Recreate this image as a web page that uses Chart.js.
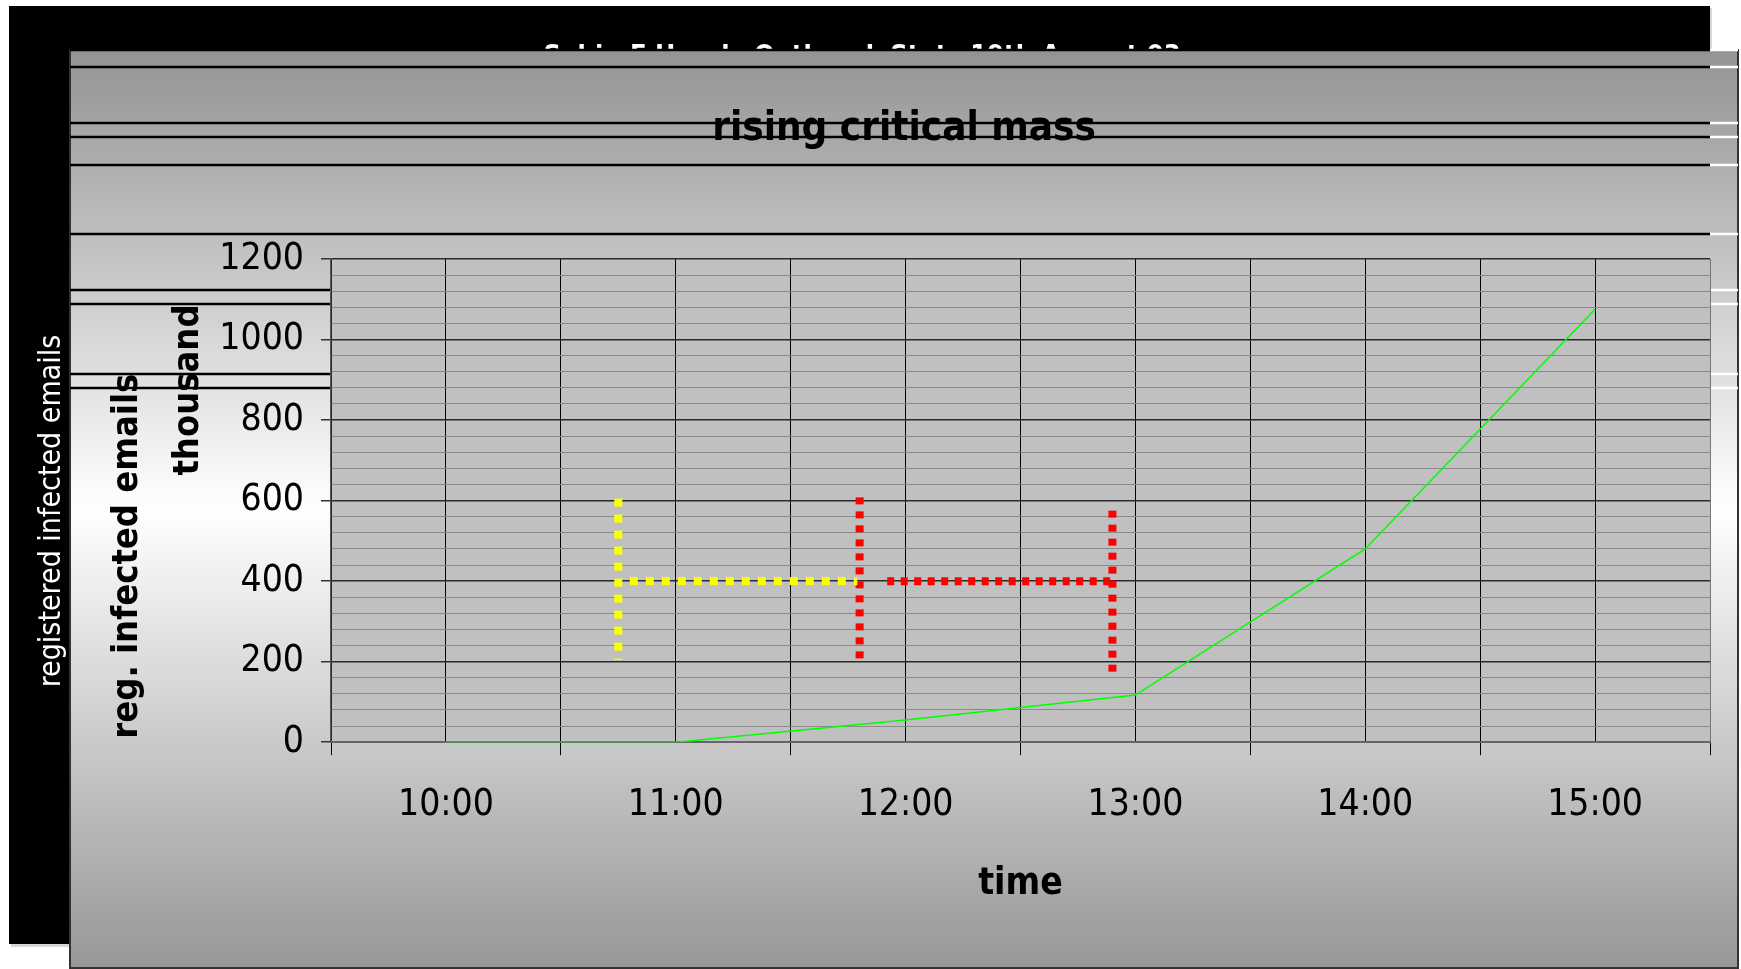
<!DOCTYPE html>
<html>
<head>
<meta charset="utf-8">
<title>rising critical mass</title>
<script src="https://cdn.jsdelivr.net/npm/chart.js@4/dist/chart.umd.min.js"></script>
<style>
  html, body { margin: 0; padding: 0; background: #fff; overflow: hidden; }
  #wrap { width: 1741px; height: 969px; }
</style>
</head>
<body>
<div id="wrap"><canvas id="myChart"></canvas></div>
<script>
const FONT = '"Liberation Sans Narrow", "Arial Narrow", "DejaVu Sans Condensed", "Liberation Sans", Arial, sans-serif';

const chartTitle = "rising critical mass";
const topTitle = "Sobig.F Hourly Outbreak Stats 19th August 03";
const sideLabel = "registered infected emails";
const yTitle = "reg. infected emails";
const yUnit = "thousand";
const xTitle = "time";

// hours on the x axis and their labels
const hours = [10, 11, 12, 13, 14, 15];
const timeLabels = ["10:00", "11:00", "12:00", "13:00", "14:00", "15:00"];
const yTicks = [0, 200, 400, 600, 800, 1000, 1200];

// registered infected emails, thousand
const infected = [0, 0, 55, 117, 480, 1075];

// dotted markers (x in hours, y in thousand)
const yellowDropX = [10.75, 10.75];
const yellowDropY = [605, 205];
const yellowSpanX = [10.8, 11.79];
const yellowSpanY = [400, 400];
const redDropX = [11.8, 11.8];
const redDropY = [608, 208];
const redSpanX = [11.92, 12.9];
const redSpanY = [400, 400];
const redEndX = [12.9, 12.9];
const redEndY = [575, 168];

const pts = (xs, ys) => xs.map((x, i) => ({ x: x, y: ys[i] }));
const isWhole = v => Math.abs(v - Math.round(v)) < 1e-6;

function dotted(color, xs, ys, dash) {
    return {
        data: pts(xs, ys),
        borderColor: color,
        borderWidth: 8,
        borderDash: dash,
        borderCapStyle: "butt",
        pointRadius: 0,
        fill: false,
        yAxisID: "y"
    };
}

function rotatedText(ctx, text, x, y, font, color) {
    ctx.save();
    ctx.translate(x, y);
    ctx.rotate(-Math.PI / 2);
    ctx.font = font;
    ctx.fillStyle = color;
    ctx.textAlign = "center";
    ctx.textBaseline = "middle";
    ctx.fillText(text, 0, 0);
    ctx.restore();
}

const backdrop = {
    id: "backdrop",
    beforeDraw(chart) {
        const { ctx, chartArea: a, width, height } = chart;
        ctx.save();
        ctx.fillStyle = "#fff";
        ctx.fillRect(0, 0, width, height);
        ctx.fillStyle = "#d6d6d6";
        ctx.fillRect(11, 8, 1701, 939);
        ctx.fillStyle = "#000";
        ctx.fillRect(9, 6, 1701, 938);

        ctx.fillStyle = "#fff";
        ctx.font = "bold 27px " + FONT;
        ctx.textAlign = "center";
        ctx.textBaseline = "alphabetic";
        ctx.fillText(topTitle, 862, 64);

        const g = ctx.createLinearGradient(0, 50, 0, 968);
        g.addColorStop(0, "#939393");
        g.addColorStop(0.5, "#ffffff");
        g.addColorStop(1, "#979797");
        ctx.fillStyle = g;
        ctx.fillRect(70, 50, 1668, 918);
        ctx.strokeStyle = "#333";
        ctx.lineWidth = 2;
        ctx.strokeRect(70, 50, 1668, 918);

        // stray black bands of the original export
        ctx.lineWidth = 2.5;
        [50, 67, 123, 137, 165, 234].forEach(y => {
            ctx.strokeStyle = "#000";
            ctx.beginPath(); ctx.moveTo(70, y); ctx.lineTo(a.right, y); ctx.stroke();
            ctx.strokeStyle = "#fff";
            ctx.beginPath(); ctx.moveTo(a.right, y); ctx.lineTo(1738, y); ctx.stroke();
        });
        [290, 304, 374, 388].forEach(y => {
            ctx.strokeStyle = "#000";
            ctx.beginPath(); ctx.moveTo(70, y); ctx.lineTo(a.left, y); ctx.stroke();
            ctx.strokeStyle = "#fff";
            ctx.beginPath(); ctx.moveTo(a.right, y); ctx.lineTo(1738, y); ctx.stroke();
        });

        ctx.fillStyle = "#c0c0c0";
        ctx.fillRect(a.left, a.top, a.width, a.height);
        ctx.restore();
    },
    afterDraw(chart) {
        const { ctx, chartArea: a } = chart;
        rotatedText(ctx, sideLabel, 52, 511, "30px " + FONT, "#fff");
        rotatedText(ctx, yTitle, a.left - 203, a.bottom - 186, "bold 36px " + FONT, "#000");
        rotatedText(ctx, yUnit, a.left - 142, a.top + 131, "bold 36px " + FONT, "#000");
    }
};

const canvas = document.getElementById("myChart");

const myChart = new Chart(canvas, {
    type: "line",
    data: {
        datasets: [
            {
                data: pts(hours, infected),
                borderColor: "#00ff00",
                borderWidth: 1.5,
                pointRadius: 0,
                fill: false,
                tension: 0,
                yAxisID: "y"
            },
            dotted("#ffff00", yellowDropX, yellowDropY, [8, 8]),
            dotted("#ffff00", yellowSpanX, yellowSpanY, [8, 8]),
            dotted("#ff0000", redDropX, redDropY, [7, 7]),
            dotted("#ff0000", redSpanX, redSpanY, [7, 6.5]),
            dotted("#ff0000", redEndX, redEndY, [7, 7])
        ]
    },
    options: {
        responsive: true,
        maintainAspectRatio: false,
        animation: false,
        layout: { padding: { left: 70, right: 3, top: 50, bottom: 0 } },
        plugins: {
            legend: { display: false },
            tooltip: { enabled: false },
            title: {
                display: true,
                text: chartTitle,
                color: "#000",
                font: { family: FONT, size: 40, weight: "bold" },
                padding: { top: 56, bottom: 105 }
            }
        },
        scales: {
            x: {
                type: "linear",
                min: 9.5,
                max: 15.5,
                ticks: {
                    stepSize: 0.5,
                    autoSkip: false,
                    maxRotation: 0,
                    padding: 28,
                    color: "#000",
                    font: { family: FONT, size: 37 },
                    callback: v => isWhole(v) ? timeLabels[hours.indexOf(Math.round(v))] : ""
                },
                grid: {
                    color: ctx => ctx.tick && ctx.tick.value === 15.5 ? "#777" : "#000",
                    lineWidth: 1,
                    tickLength: 13,
                    tickColor: ctx => ctx.tick && isWhole(ctx.tick.value) ? "rgba(0,0,0,0)" : "#000"
                },
                border: { color: "#666", width: 2 },
                title: {
                    display: true,
                    text: xTitle,
                    color: "#000",
                    font: { family: FONT, size: 37, weight: "bold" },
                    padding: { top: 7, bottom: 62 }
                }
            },
            y: {
                type: "linear",
                min: 0,
                max: 1200,
                ticks: {
                    stepSize: 40,
                    autoSkip: false,
                    padding: 17,
                    color: "#000",
                    font: { family: FONT, size: 37 },
                    callback: v => yTicks.includes(v) ? String(v) : ""
                },
                grid: {
                    color: ctx => {
                        const v = ctx.tick ? ctx.tick.value : 0;
                        if (v === 0) return "#666";
                        return yTicks.includes(v) ? "#2a2a2a" : "#8a8a8a";
                    },
                    lineWidth: ctx => ctx.tick && yTicks.includes(ctx.tick.value) ? 1.5 : 1,
                    tickLength: 10,
                    tickColor: ctx => ctx.tick && yTicks.includes(ctx.tick.value) ? "#333" : "rgba(0,0,0,0)"
                },
                border: { color: "#555", width: 1.5 },
                afterFit: s => { s.width = 261; }
            },
            yR: {
                type: "linear",
                position: "right",
                grid: { display: false, drawTicks: false },
                ticks: { display: false },
                border: { display: false },
                afterFit: s => { s.width = 28; }
            }
        }
    },
    plugins: [backdrop]
});
</script>
</body>
</html>
